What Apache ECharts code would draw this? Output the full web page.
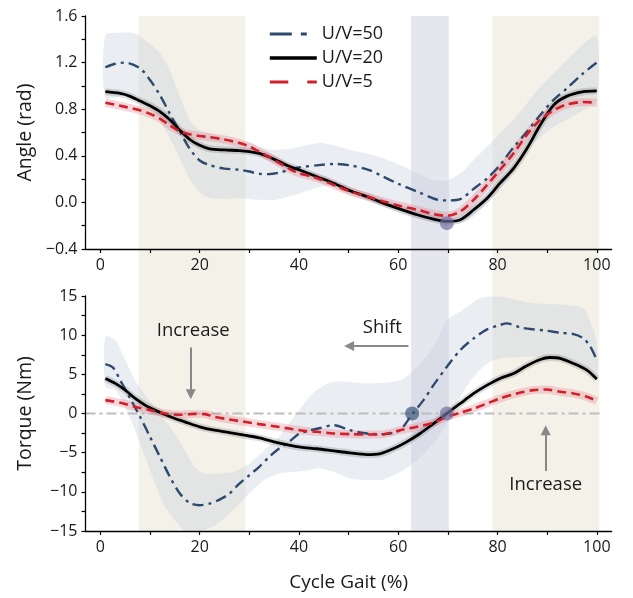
<!DOCTYPE html>
<html>
<head>
<meta charset="utf-8">
<title>Angle and torque over the gait cycle</title>
<script src="https://cdn.jsdelivr.net/npm/echarts@6/dist/echarts.min.js"></script>
<style>
  html, body { margin: 0; padding: 0; background: #ffffff; }
  #chart { width: 633px; height: 598px; }
</style>
</head>
<body>
<div id="chart"></div>
<script>
// Gait-cycle ticks and labels (%)
const gaitTicks = [0, 10, 20, 30, 40, 50, 60, 70, 80, 90, 100];
const gaitLabels = [0, 20, 40, 60, 80, 100];

// Shaded gait phases [start, end] (%)
const stancePhases = [[7.7, 29.2], [79.0, 100.5]];
const transitionPhase = [[62.6, 70.2]];

// Joint angle (rad), mean curves
const angleUV50 = [[1,1.16],[3,1.19],[5,1.20],[8,1.15],[10,1.05],[12,0.92],[14,0.76],[16,0.61],[18,0.46],[20,0.36],[22,0.32],[25,0.29],[28,0.28],[30,0.265],[32,0.245],[34,0.243],[36,0.255],[38,0.28],[40,0.30],[44,0.32],[47,0.33],[50,0.32],[54,0.28],[57,0.22],[60,0.16],[64,0.09],[68,0.022],[70,0.017],[72.5,0.028],[75,0.11],[78,0.21],[80.5,0.32],[83,0.46],[86,0.61],[88.6,0.75],[91.3,0.88],[94,0.98],[97.3,1.11],[100,1.20]];
const angleUV20 = [[1,0.95],[4,0.935],[6,0.91],[8,0.87],[10,0.83],[12,0.78],[14,0.71],[16,0.62],[18,0.54],[20,0.49],[22,0.46],[25,0.45],[28,0.445],[30,0.436],[32,0.42],[34,0.39],[36,0.35],[38,0.31],[40,0.28],[43.6,0.22],[47,0.165],[50.3,0.10],[53.7,0.05],[57,-0.006],[60.4,-0.058],[63.8,-0.106],[67.1,-0.143],[69.8,-0.163],[72.5,-0.149],[75.2,-0.063],[77.9,0.036],[80.5,0.165],[83.2,0.29],[85.9,0.46],[88.6,0.664],[91.3,0.835],[93.9,0.91],[97.3,0.95],[100,0.958]];
const angleUV5 = [[1,0.855],[5,0.82],[8,0.79],[10,0.76],[12,0.72],[14,0.66],[16,0.61],[18,0.585],[20,0.57],[22,0.56],[25,0.54],[28,0.51],[30,0.48],[32,0.436],[34,0.39],[36,0.34],[38,0.29],[40,0.25],[43.6,0.21],[47,0.15],[50.3,0.094],[53.7,0.05],[57,0.008],[60.4,-0.03],[63.8,-0.063],[67.1,-0.10],[69.8,-0.115],[72.5,-0.078],[75.2,0.022],[77.9,0.15],[80.5,0.28],[83.2,0.42],[85.9,0.58],[88.6,0.71],[91.3,0.79],[93.9,0.84],[97.3,0.862],[100,0.855]];
// U/V=50 spread (upper / lower bound)
const angleUV50Hi = [[1,1.435],[4,1.457],[7,1.45],[10,1.36],[12,1.28],[14,1.135],[16,0.91],[18,0.71],[20,0.62],[22,0.59],[25,0.55],[28,0.52],[30,0.51],[32,0.48],[35,0.45],[38,0.46],[40.3,0.48],[44.3,0.51],[47,0.49],[50.3,0.45],[53.7,0.42],[57,0.38],[60.4,0.32],[63.8,0.25],[67.1,0.19],[69.8,0.19],[72.5,0.25],[75.2,0.365],[77.9,0.48],[80.5,0.59],[83.2,0.71],[85.9,0.85],[88.6,0.99],[91.3,1.11],[93.9,1.22],[97.3,1.36],[100,1.43]];
const angleUV50Lo = [[1,0.90],[5,0.92],[8,0.88],[10,0.80],[12,0.70],[14,0.55],[16,0.38],[18,0.20],[20,0.09],[22,0.04],[25,0.03],[28,0.035],[30,0.03],[32,0.022],[35,0.02],[38,0.05],[40.3,0.08],[44.3,0.136],[47,0.136],[50.3,0.094],[53.7,0.022],[57,-0.035],[60.4,-0.09],[63.8,-0.135],[67.1,-0.17],[69.8,-0.18],[72.5,-0.175],[75.2,-0.12],[77.9,-0.006],[80.5,0.11],[83.2,0.28],[85.9,0.46],[88.6,0.56],[91.3,0.65],[93.9,0.71],[97.3,0.79],[100,0.88]];

// Joint torque (Nm), mean curves
const torqueUV50 = [[1,6.31],[2.5,5.88],[4,4.26],[6,1.92],[8,-0.42],[10,-2.98],[12,-5.54],[14,-8.09],[16,-10.22],[18,-11.42],[20,-11.71],[22,-11.5],[24,-11.0],[26,-10.22],[28,-8.95],[30,-7.88],[32,-6.8],[34,-5.54],[36,-4.47],[38,-3.62],[40,-2.6],[42,-2.2],[44.3,-1.85],[47,-1.49],[50.3,-2.13],[53.7,-2.55],[57,-2.64],[59.7,-2.34],[61,-1.7],[62.8,-0.1],[65.1,1.71],[67.1,3.62],[69.8,5.97],[72.5,8.1],[75.2,9.59],[77.9,10.74],[80.5,11.3],[81.9,11.5],[84.6,10.99],[87.2,10.74],[89.9,10.57],[92.6,10.3],[95.3,10.14],[97.3,9.59],[98.7,8.52],[100,6.82]];
const torqueUV20 = [[1,4.48],[3,3.84],[5,2.98],[7,1.92],[9,1.07],[11,0.43],[13,-0.13],[15,-0.64],[17,-1.06],[20,-1.7],[23,-2.13],[26,-2.43],[29,-2.77],[32,-3.11],[35,-3.62],[38,-4.05],[40.3,-4.3],[43.6,-4.5],[47,-4.77],[50.3,-5.03],[53.7,-5.24],[56.4,-5.11],[59.1,-4.47],[61.7,-3.62],[64.4,-2.55],[67.1,-1.28],[69.8,0.0],[72.5,1.28],[75.2,2.56],[77.9,3.62],[80.5,4.48],[83.2,5.11],[85.9,6.1],[88.6,6.9],[90.5,7.15],[92.6,7.05],[95.3,6.39],[98,5.54],[100,4.39]];
const torqueUV5 = [[1,1.71],[4,1.37],[7,0.85],[10,0.43],[13,0.0],[16,-0.15],[19,-0.05],[21,-0.08],[23,-0.42],[26,-0.77],[29,-1.06],[32,-1.36],[35,-1.62],[38,-1.92],[41,-2.21],[43.6,-2.34],[47,-2.55],[50.3,-2.64],[53.7,-2.68],[57,-2.64],[60.4,-2.13],[63.8,-1.7],[67.1,-1.19],[69.8,-0.42],[72.5,0.09],[75.2,0.64],[77.9,1.28],[80.5,1.92],[83.9,2.56],[87.2,2.98],[89.9,3.07],[92.6,2.77],[95.3,2.56],[98,2.13],[100,1.62]];
// U/V=50 spread (upper / lower bound)
const torqueUV50Hi = [[1,9.8],[3,9.38],[5,6.82],[7,4.26],[9,2.34],[11,0.85],[13,-0.85],[15,-2.55],[17,-4.69],[19,-6.82],[21,-7.67],[24,-7.67],[27,-7.45],[30,-6.39],[33,-4.69],[36,-2.98],[39,-0.42],[41,1.28],[43.6,3.0],[47,4.05],[53.7,3.84],[60.4,4.26],[63.2,5.54],[67.1,8.52],[69.8,11.9],[72.5,13.0],[76.5,14.7],[80.5,14.9],[87.2,14.06],[93.9,13.85],[97.3,13.4],[99.3,10.65],[100,9.0]];
const torqueUV50Lo = [[1,3.4],[3,3.0],[5,0.85],[7,-2.13],[9,-5.54],[11,-8.95],[13,-11.9],[15,-13.6],[17,-14.9],[20,-15.0],[23,-14.3],[26,-12.8],[28,-11.5],[30,-10.2],[33,-8.5],[36,-7.67],[39,-7.45],[42,-7.24],[44,-7.0],[47,-7.45],[50.3,-8.3],[53.7,-8.5],[57,-8.43],[60.4,-7.45],[63.8,-5.96],[67.1,-3.83],[69.8,-1.28],[72.5,2.13],[75.2,4.69],[77.9,6.39],[80.5,7.03],[87.2,7.24],[93.9,6.82],[97.3,5.96],[100,4.26]];

// Zero-torque reference and zero-crossing markers
const torqueZero = [[-3, 0], [101, 0]];
const angleMinPoint = [[69.8, -0.178]];
const torqueCrossings = [[62.8, 0], [69.8, 0]];

// Annotation texts
const noteTexts = ['Increase', 'Shift', 'Increase'];

const FONT = "'Open Sans', 'Noto Sans', sans-serif";
const INK = '#1a1a1a';
const BLUE = '#2d4a6e';
const RED = '#d11f2c';
const BAND = 'rgba(196,204,220,0.36)';

const minus = s => String(s).replace('-', '\u2212');

function gaitAxis(gridIndex, withName) {
  return {
    type: 'value', gridIndex, min: -3, max: 103, z: 5,
    name: withName ? 'Cycle Gait (%)' : '',
    nameLocation: 'middle', nameGap: 42,
    nameTextStyle: { fontFamily: FONT, fontSize: 19, color: INK },
    axisLine: { show: true, onZero: false, lineStyle: { color: '#000', width: 1.3 } },
    axisTick: { show: true, customValues: gaitTicks, length: 4, lineStyle: { color: '#000', width: 1.2 } },
    axisLabel: { customValues: gaitLabels, margin: 8, fontFamily: FONT, fontSize: 16, color: INK },
    splitLine: { show: false }
  };
}

function valueAxis(gridIndex, name, min, max, interval, fmt) {
  return {
    type: 'value', gridIndex, min, max, interval, z: 5,
    name, nameLocation: 'middle', nameGap: 50,
    nameTextStyle: { fontFamily: FONT, fontSize: 19.5, color: INK },
    axisLine: { show: true, onZero: false, lineStyle: { color: '#000', width: 1.3 } },
    axisTick: { show: true, length: 4, lineStyle: { color: '#000', width: 1.2 } },
    minorTick: { show: true, splitNumber: 2, length: 4, lineStyle: { color: '#000', width: 1.2 } },
    axisLabel: { margin: 8, fontFamily: FONT, fontSize: 16, color: INK, formatter: fmt },
    splitLine: { show: false }
  };
}

// Filled polygon between an upper and a lower bound curve
function spreadSeries(xi, yi, hi, lo) {
  return {
    type: 'custom', xAxisIndex: xi, yAxisIndex: yi, z: 1, silent: true, clip: true,
    data: [[hi[0][0], hi[0][1]]],
    renderItem: (params, api) => {
      const pts = hi.map(p => api.coord(p)).concat(lo.slice().reverse().map(p => api.coord(p)));
      return { type: 'polygon', shape: { points: pts, smooth: 0.25 }, style: { fill: BAND } };
    }
  };
}

// Pale halo drawn under a mean curve
function halo(xi, yi, data, color, width) {
  return {
    type: 'line', xAxisIndex: xi, yAxisIndex: yi, data, smooth: 0.3, symbol: 'none', silent: true, z: 2,
    lineStyle: { color, width }
  };
}

function meanLine(xi, yi, name, data, color, width, type) {
  return {
    name, type: 'line', xAxisIndex: xi, yAxisIndex: yi, data, smooth: 0.3, symbol: 'none', z: 3,
    lineStyle: { color, width, type, cap: 'butt' }, itemStyle: { color }
  };
}

function arrow(from, to) {
  return {
    type: 'line', xAxisIndex: 1, yAxisIndex: 1, data: [], z: 6, silent: true,
    markLine: {
      silent: true, symbol: ['none', 'triangle'], symbolSize: 10, animation: false,
      label: { show: false },
      lineStyle: { color: '#888888', width: 2, type: 'solid' },
      data: [[{ coord: from }, { coord: to }]]
    }
  };
}

const phaseColors = ['#f4f1e9', '#f4f1e9', '#e6e6ee'];

const option = {
  animation: false,
  backgroundColor: '#ffffff',
  grid: [
    { left: 85.5, right: 21.3, top: 16, height: 233 },
    { left: 85.5, right: 21.3, top: 296, height: 235 },
    { left: 85.5, right: 21.3, top: 16, bottom: 67.3 }
  ],
  xAxis: [
    gaitAxis(0, false),
    gaitAxis(1, true),
    { type: 'value', gridIndex: 2, min: -3, max: 103, show: false }
  ],
  yAxis: [
    valueAxis(0, 'Angle (rad)', -0.4, 1.6, 0.4, v => minus(v.toFixed(1))),
    valueAxis(1, 'Torque (Nm)', -15, 15, 5, v => minus(v)),
    { type: 'value', gridIndex: 2, min: 0, max: 1, show: false }
  ],
  legend: {
    left: 263, top: 20, orient: 'vertical', itemWidth: 47, itemHeight: 14, itemGap: 6,
    itemStyle: { opacity: 0 },
    textStyle: { fontFamily: FONT, fontSize: 18, color: INK },
    data: [
      { name: 'U/V=50', lineStyle: { color: BLUE, width: 3.2, type: [22, 9, 6, 15] } },
      { name: 'U/V=20', lineStyle: { color: '#000', width: 3.6, type: 'solid' } },
      { name: 'U/V=5', lineStyle: { color: RED, width: 3.2, type: [18.5, 19] } }
    ]
  },
  series: [
    // Phase shading across both panels
    {
      type: 'custom', xAxisIndex: 2, yAxisIndex: 2, z: 0, silent: true,
      data: stancePhases.concat(transitionPhase),
      renderItem: (params, api) => {
        const a = api.coord([api.value(0), 1]);
        const b = api.coord([api.value(1), 0]);
        return { type: 'rect', shape: { x: a[0], y: a[1], width: b[0] - a[0], height: b[1] - a[1] },
                 style: { fill: phaseColors[params.dataIndex] } };
      }
    },
    spreadSeries(0, 0, angleUV50Hi, angleUV50Lo),
    spreadSeries(1, 1, torqueUV50Hi, torqueUV50Lo),
    {
      type: 'line', xAxisIndex: 1, yAxisIndex: 1, data: torqueZero, symbol: 'none', silent: true, z: 2,
      lineStyle: { color: '#bdbdbd', width: 2, type: [10, 4, 3, 4] }
    },
    halo(0, 0, angleUV20, 'rgba(0,0,0,0.13)', 7),
    halo(0, 0, angleUV5, 'rgba(226,110,122,0.28)', 8),
    halo(1, 1, torqueUV20, 'rgba(0,0,0,0.13)', 7),
    halo(1, 1, torqueUV5, 'rgba(226,110,122,0.28)', 8),
    meanLine(0, 0, 'U/V=50', angleUV50, BLUE, 2.4, [11, 5, 3, 5]),
    meanLine(0, 0, 'U/V=20', angleUV20, '#000', 2.8, 'solid'),
    meanLine(0, 0, 'U/V=5', angleUV5, RED, 2.6, [9, 5]),
    meanLine(1, 1, 'U/V=50', torqueUV50, BLUE, 2.4, [11, 5, 3, 5]),
    meanLine(1, 1, 'U/V=20', torqueUV20, '#000', 2.8, 'solid'),
    meanLine(1, 1, 'U/V=5', torqueUV5, RED, 2.6, [9, 5]),
    {
      type: 'scatter', xAxisIndex: 0, yAxisIndex: 0, data: angleMinPoint, symbolSize: 14, z: 4, silent: true,
      itemStyle: { color: 'rgba(112,110,158,0.85)' }
    },
    {
      type: 'scatter', xAxisIndex: 1, yAxisIndex: 1, symbolSize: 14, z: 4, silent: true,
      data: [
        { value: torqueCrossings[0], itemStyle: { color: 'rgba(54,82,118,0.85)' } },
        { value: torqueCrossings[1], itemStyle: { color: 'rgba(112,110,158,0.85)' } }
      ]
    },
    arrow([18.2, 8.44], [18.2, 2.47]),
    arrow([62.05, 8.61], [50.1, 8.61]),
    arrow([89.7, -7.33], [89.7, -2.13]),
    // Annotation texts placed in torque coordinates
    {
      type: 'custom', xAxisIndex: 1, yAxisIndex: 1, z: 6, silent: true,
      data: [[18.7, 10.53], [56.8, 10.95], [89.7, -9.03]],
      renderItem: (params, api) => {
        const p = api.coord([api.value(0), api.value(1)]);
        return { type: 'text', x: p[0], y: p[1],
                 style: { text: noteTexts[params.dataIndex], fill: INK, font: '18.5px ' + FONT,
                          align: 'center', verticalAlign: 'middle' } };
      }
    }
  ]
};

const chart = echarts.init(document.getElementById('chart'), null, { renderer: 'canvas' });
chart.setOption(option);
</script>
</body>
</html>
